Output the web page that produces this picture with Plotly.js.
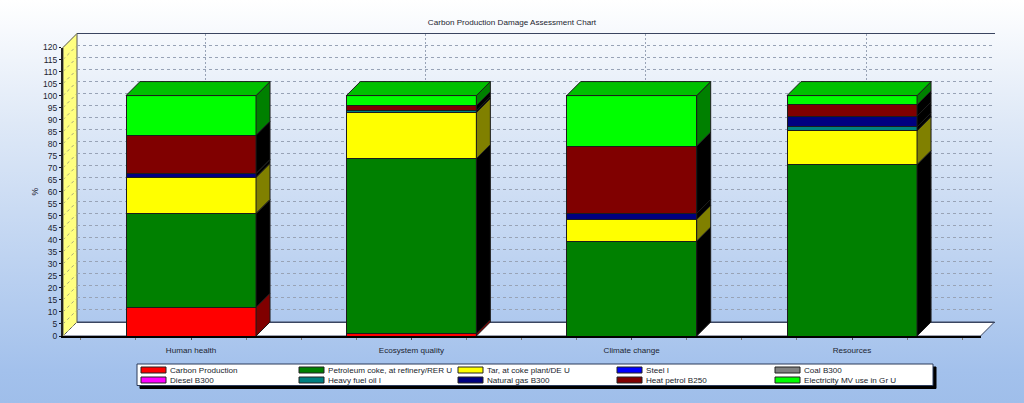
<!DOCTYPE html>
<html>
<head>
<meta charset="utf-8">
<script src="https://cdn.plot.ly/plotly-3.0.1.min.js"></script>
<style>
html,body{margin:0;padding:0;width:1024px;height:403px;overflow:hidden;background:linear-gradient(to bottom,#ffffff 0%,#dfe9f7 30%,#a3c1ec 92%,#9fbeea 100%);}
#chart{width:1024px;height:403px;}
</style>
</head>
<body>
<div id="chart"></div>
<script>
var categories = ["Human health","Ecosystem quality","Climate change","Resources"];
var chartTitle = "Carbon Production Damage Assessment Chart";
var yTicks = [0,5,10,15,20,25,30,35,40,45,50,55,60,65,70,75,80,85,90,95,100,105,110,115,120];

var carbon      = [12, 1, null, null];
var petroleum   = [39, 72.8, 39.5, 71.3];
var tar         = [15, 19.2, 9, 14.1];
var steel       = [null, null, null, null];
var coal        = [null, null, null, null];
var diesel      = [null, null, null, null];
var heavyFuel   = [null, 0.8, null, 1.6];
var naturalGas  = [1.6, null, 2.5, 4.5];
var heatPetrol  = [15.9, 2, 28, 4.6];
var electricity = [16.5, 4.2, 21, 3.9];

var seriesNames = ["Carbon Production","Petroleum coke, at refinery/RER U","Tar, at coke plant/DE U","Steel I","Coal B300","Diesel B300","Heavy fuel oil I","Natural gas B300","Heat petrol B250","Electricity MV use in Gr U"];
var seriesValues = [carbon,petroleum,tar,steel,coal,diesel,heavyFuel,naturalGas,heatPetrol,electricity];
var frontColors = ["#ff0000","#008000","#ffff00","#0000ff","#808080","#ff00ff","#008080","#000080","#800000","#00ff00"];
var sideColors  = ["#800000","#000000","#808000","#000080","#404040","#800080","#000000","#000000","#000000","#008000"];
var topColor = "#00c000";

var W = 1024, H = 403;
var frontL = 63, frontR = 980.5, frontT = 47.5, frontB = 336, depth = 14;
var xRange = [-0.581, 3.583], barWidth = 0.59;
var pxPerCat = (frontR-frontL)/(xRange[1]-xRange[0]);
var pxPerUnit = (frontB-frontT)/120;
var dx = depth/pxPerCat, dy = depth/pxPerUnit;
var lineCol = "#1c1c1c", wallLine = "#3a4560";

var xs = categories.map(function(_,i){return i;});
var traces = [];
// bars (front faces)
seriesNames.forEach(function(n,s){
  traces.push({type:"bar",x:xs,y:seriesValues[s],name:n,width:barWidth,xaxis:"x2",yaxis:"y2",showlegend:false,hoverinfo:"name+y",
    marker:{color:frontColors[s],line:{color:lineCol,width:1}}});
});
// side faces derived from the stacked values
var base = xs.map(function(){return 0;});
seriesNames.forEach(function(n,s){
  var px=[],py=[];
  xs.forEach(function(i){
    var v=seriesValues[s][i]; if(v===null) return;
    var r=i+barWidth/2, a=base[i], b=a+v;
    px.push(r,r+dx,r+dx,r,r,null); py.push(a,a+dy,b+dy,b,a,null);
    base[i]=b;
  });
  if(px.length) traces.push({type:"scatter",mode:"lines",x:px,y:py,fill:"toself",fillcolor:sideColors[s],xaxis:"x2",yaxis:"y2",
    line:{color:lineCol,width:1},showlegend:false,hoverinfo:"skip",name:n+" side"});
});
// top faces
var tx=[],ty=[];
xs.forEach(function(i){
  var l=i-barWidth/2,r=i+barWidth/2,t=base[i];
  tx.push(l,l+dx,r+dx,r,l,null); ty.push(t,t+dy,t+dy,t,t,null);
});
traces.push({type:"scatter",mode:"lines",x:tx,y:ty,fill:"toself",fillcolor:topColor,xaxis:"x2",yaxis:"y2",line:{color:lineCol,width:1},showlegend:false,hoverinfo:"skip",name:"top"});
// keeps the back-wall subplot alive
traces.unshift({type:"scatter",mode:"none",x:[0],y:[0],xaxis:"x",yaxis:"y",showlegend:false,hoverinfo:"skip",name:"wall"});

function fx(x){return x/W;} function fy(y){return 1-y/H;}
function poly(pts){return "M"+pts.map(function(p){return fx(p[0])+","+fy(p[1]);}).join("L")+"Z";}
var shapes=[];
function pshape(pts,fill,line,lw,layer){
  shapes.push({type:"path",xref:"paper",yref:"paper",path:poly(pts),fillcolor:fill,line:{color:line,width:lw},layer:layer||"below"});
}
// floor + left wall
pshape([[frontL,frontB],[frontL+depth,frontB-depth],[frontR+depth,frontB-depth],[frontR,frontB]],"#ffffff",wallLine,1);
pshape([[frontL,frontT],[frontL+depth,frontT-depth],[frontL+depth,frontB-depth],[frontL,frontB]],"#ffff80","#555555",1);
yTicks.forEach(function(v){
  var y=frontB-v*pxPerUnit;
  shapes.push({type:"line",xref:"paper",yref:"paper",x0:fx(frontL),y0:fy(y),x1:fx(frontL+depth),y1:fy(y-depth),line:{color:"#a8a878",width:1,dash:"3px,3px"},layer:"below"});
});

// legend, laid out from the series arrays
var annotations=[];
var lgL=137,lgR=933,lgT=364,lgB=385.5;
pshape([[lgL+3,lgT+3],[lgR+3,lgT+3],[lgR+3,lgB+3],[lgL+3,lgB+3]],"#000000","#000000",1,"above");
pshape([[lgL,lgT],[lgR,lgT],[lgR,lgB],[lgL,lgB]],"#ffffff","#2a3a5a",1,"above");
var colX=[141,299,458,617,775], rowY=[370,380];
seriesNames.forEach(function(n,s){
  var c=s%5,r=Math.floor(s/5),x=colX[c],y=rowY[r];
  pshape([[x,y-3],[x+25,y-3],[x+25,y+3],[x,y+3]],frontColors[s],"#222222",1,"above");
  annotations.push({xref:"paper",yref:"paper",x:fx(x+28),y:fy(y),xanchor:"left",yanchor:"middle",text:n,showarrow:false,font:{family:"Liberation Sans",size:8.1,color:"#20242c"},borderpad:0});
});

var axisFont={family:"Liberation Sans",size:8.1,color:"#1c2430"};
var tickFontY={family:"Liberation Sans",size:8.5,color:"#1c2430"};
var layout={
  width:W,height:H,margin:{l:0,r:0,t:0,b:0,pad:0},
  paper_bgcolor:"rgba(0,0,0,0)",plot_bgcolor:"rgba(0,0,0,0)",showlegend:false,hovermode:"closest",
  title:{text:chartTitle,x:512/W,xanchor:"center",y:fy(22.5),yanchor:"middle",font:{family:"Liberation Sans",size:8.1,color:"#1c2430"}},
  // back wall
  xaxis:{domain:[fx(frontL+depth),fx(frontR+depth)],range:xRange,anchor:"y",tickvals:xs,showticklabels:false,ticks:"",showgrid:true,gridcolor:"#98a3b6",griddash:"2px,2px",gridwidth:1,zeroline:false,showline:true,linecolor:wallLine,linewidth:1,mirror:true,fixedrange:true},
  yaxis:{domain:[fy(frontB-depth),fy(frontT-depth)],range:[0,120],anchor:"x",tickvals:yTicks,showticklabels:false,ticks:"",showgrid:true,gridcolor:"#98a3b6",griddash:"3px,3px",gridwidth:1,zeroline:false,showline:false,fixedrange:true},
  // front axes carrying the bars
  xaxis2:{domain:[fx(frontL),fx(frontR)],range:xRange,anchor:"y2",tickvals:xs,ticktext:categories,tickfont:axisFont,ticks:"outside",ticklen:2,tickcolor:"#444",showgrid:false,zeroline:false,showline:true,linecolor:"#000000",linewidth:2,
    minor:{dtick:0.25,tick0:0,ticks:"outside",ticklen:2,tickcolor:"#777",showgrid:false},fixedrange:true,ticklabelstandoff:3},
  yaxis2:{domain:[fy(frontB),fy(frontT)],range:[0,120],anchor:"x2",tickvals:yTicks,ticktext:yTicks.map(String),tickfont:tickFontY,ticks:"outside",ticklen:2,tickcolor:"#111",showgrid:false,zeroline:false,showline:true,linecolor:"#222222",linewidth:2,fixedrange:true,
    title:{text:"%",font:tickFontY,standoff:3}},
  barmode:"stack",bargap:0,
  shapes:shapes,annotations:annotations
};
Plotly.newPlot("chart",traces,layout,{displayModeBar:false,staticPlot:true});
</script>
</body>
</html>
